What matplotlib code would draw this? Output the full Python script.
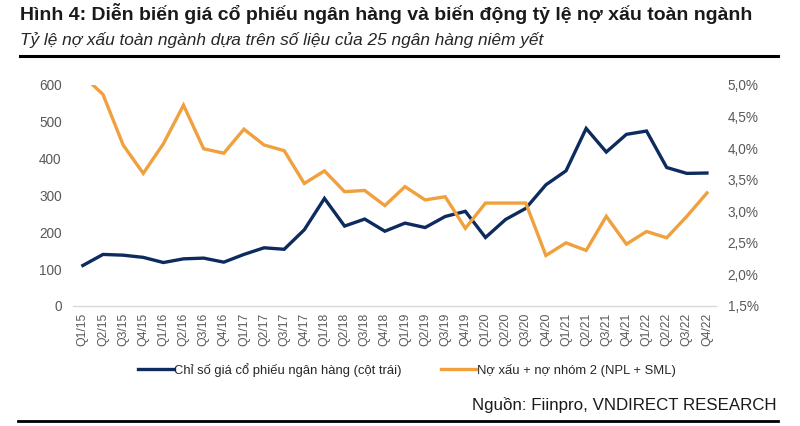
import matplotlib.pyplot as plt
from matplotlib.lines import Line2D
from matplotlib.ticker import FuncFormatter

quarters = ['Q1/15', 'Q2/15', 'Q3/15', 'Q4/15', 'Q1/16', 'Q2/16', 'Q3/16', 'Q4/16',
            'Q1/17', 'Q2/17', 'Q3/17', 'Q4/17', 'Q1/18', 'Q2/18', 'Q3/18', 'Q4/18',
            'Q1/19', 'Q2/19', 'Q3/19', 'Q4/19', 'Q1/20', 'Q2/20', 'Q3/20', 'Q4/20',
            'Q1/21', 'Q2/21', 'Q3/21', 'Q4/21', 'Q1/22', 'Q2/22', 'Q3/22', 'Q4/22']

# bank stock price index (left axis)
bank_index = [110, 140, 138, 132, 118, 128, 130, 119,
              140, 158, 154, 207, 292, 217, 236, 203,
              225, 213, 243, 257, 186, 235, 265, 329,
              367, 482, 418, 466, 475, 376, 360, 361]

# NPL + SML ratio, % (right axis)
npl_sml = [5.15, 4.85, 4.05, 3.60, 4.07, 4.68, 3.99, 3.92,
           4.30, 4.05, 3.96, 3.44, 3.64, 3.31, 3.33, 3.09,
           3.39, 3.18, 3.23, 2.73, 3.13, 3.13, 3.13, 2.30,
           2.50, 2.38, 2.92, 2.48, 2.68, 2.58, 2.92, 3.29]

left_ticks = [0, 100, 200, 300, 400, 500, 600]
right_ticks = [1.5, 2.0, 2.5, 3.0, 3.5, 4.0, 4.5, 5.0]

navy = '#0d2b5e'
orange = '#f0a03c'
grey_txt = '#595959'

plt.rcParams['font.family'] = ['Liberation Sans', 'DejaVu Sans']

fig = plt.figure(figsize=(8, 4.26), dpi=100)
ax = fig.add_axes([0.091, 0.2817, 0.804, 0.5188])
ax2 = ax.twinx()

x = list(range(len(quarters)))
ax.plot(x, bank_index, color=navy, lw=2.4, solid_joinstyle='miter', zorder=3)
ax2.plot(x, npl_sml, color=orange, lw=2.4, solid_joinstyle='miter', zorder=2)

ax.set_xlim(-0.5, 31.45)
ax.set_ylim(0, 600)
ax2.set_ylim(1.5, 5.0)
ax.set_yticks(left_ticks)
ax2.set_yticks(right_ticks)
ax2.yaxis.set_major_formatter(FuncFormatter(lambda v, p: ('%.1f%%' % v).replace('.', ',')))

ax.set_xticks(x)
ax.set_xticklabels(quarters, rotation=90, fontsize=8.8, color=grey_txt)
ax.tick_params(axis='x', length=0, pad=5)
ax.tick_params(axis='y', length=0, pad=8, labelsize=9.8, labelcolor=grey_txt)
ax2.tick_params(axis='y', length=0, pad=8.5, labelsize=9.8, labelcolor=grey_txt)

for a in (ax, ax2):
    for s in ['top', 'left', 'right']:
        a.spines[s].set_visible(False)
ax.spines['bottom'].set_color('#d9d9d9')
ax.spines['bottom'].set_linewidth(1.0)
ax2.spines['bottom'].set_visible(False)

# title block
fig.text(20 / 800, 1 - 14 / 426, 'Hình 4: Diễn biến giá cổ phiếu ngân hàng và biến động tỷ lệ nợ xấu toàn ngành',
         fontsize=14.0, fontweight='bold', color='#1a1a1a', va='center', ha='left')
fig.text(20 / 800, 1 - 40 / 426, 'Tỷ lệ nợ xấu toàn ngành dựa trên số liệu của 25 ngân hàng niêm yết',
         fontsize=12.4, fontstyle='italic', color='#262626', va='center', ha='left')
fig.add_artist(Line2D([20 / 800, 778 / 800], [1 - 56 / 426, 1 - 56 / 426], color='black', lw=2.2))
fig.add_artist(Line2D([18 / 800, 778 / 800], [1 - 421 / 426, 1 - 421 / 426], color='black', lw=2.0))

# legend
h1 = Line2D([], [], color=navy, lw=2.4)
h2 = Line2D([], [], color=orange, lw=2.4)
leg = fig.legend([h1, h2], ['Chỉ số giá cổ phiếu ngân hàng (cột trái)', 'Nợ xấu + nợ nhóm 2 (NPL + SML)'],
                 loc='center', bbox_to_anchor=(407 / 800, 1 - 370 / 426), ncol=2, frameon=False,
                 handlelength=2.7, handletextpad=0.05, columnspacing=3.0,
                 prop={'size': 9.4})
for t in leg.get_texts():
    t.set_color('#262626')

fig.text(777 / 800, 1 - 405 / 426, 'Nguồn: Fiinpro, VNDIRECT RESEARCH',
         fontsize=12.2, color='#1a1a1a', va='center', ha='right')

fig.savefig('out.png', dpi=100)
